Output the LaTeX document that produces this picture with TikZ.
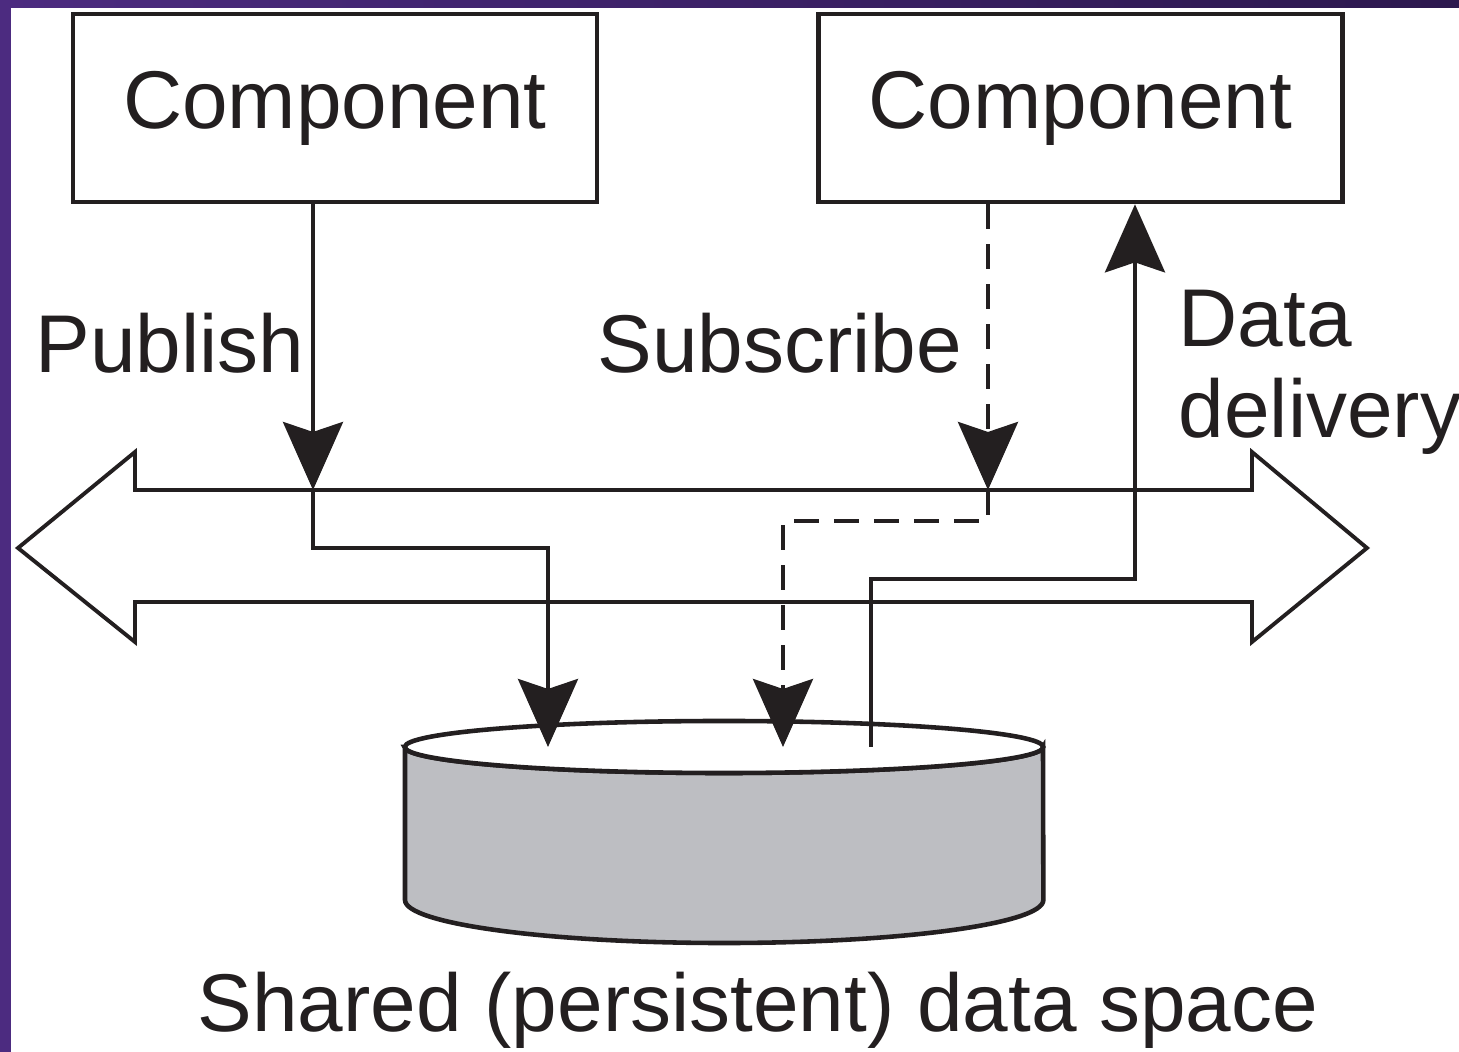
\documentclass[tikz,border=0pt]{standalone}
\usepackage{fontspec}
\setmainfont{Liberation Sans}
\usetikzlibrary{arrows.meta}
\definecolor{ink}{RGB}{35,31,32}
\definecolor{drum}{RGB}{189,190,194}
\definecolor{frameA}{RGB}{76,43,128}
\definecolor{frameB}{RGB}{44,24,78}
\begin{document}
\begin{tikzpicture}[x=0.01cm, y=-0.01cm, line join=miter,
  lbl/.style={font=\fontsize{23.3}{25.9}\selectfont, inner sep=0pt, text=ink},
  compbox/.style={draw=ink, line width=1.3pt, minimum width=5.24cm,
    minimum height=1.88cm, inner sep=0pt, text=ink,
    font=\fontsize{23.3}{25.9}\selectfont},
  flow/.style={draw=ink, line width=1.1pt},
  tip/.style={-{Stealth[length=0.68cm, width=0.6cm, inset=0.1cm]}},
  dashline/.style={dash pattern=on 0.25cm off 0.15cm}]
  \useasboundingbox (0,0) rectangle (1459,1052);
  \fill[white] (0,0) rectangle (1459,1052);
  % slide frame
  \shade[left color=frameA, right color=frameB] (0,0) rectangle (1459,8);
  \fill[frameA] (0,0) rectangle (11,1052);

  % components
  \node[compbox] (c1) at (335,108) {Component};
  \node[compbox] (c2) at (1080.5,108) {Component};

  % shared data space (drum)
  \filldraw[fill=drum, draw=ink, line width=1.3pt]
    (405,747) -- (405,900)
    arc[start angle=180, end angle=360, x radius=3.19cm, y radius=0.43cm]
    -- (1043,747)
    arc[start angle=0, end angle=-180, x radius=3.19cm, y radius=0.26cm]
    -- cycle;
  \draw[fill=white, draw=ink, line width=1.3pt]
    (724,747) ellipse [x radius=3.19cm, y radius=0.26cm];

  % bus (double-headed arrow)
  \draw[flow, fill=white]
    (18,548) -- (135,452) -- (135,490) -- (1252,490) -- (1252,452)
    -- (1367,548) -- (1252,642) -- (1252,602) -- (135,602) -- (135,642)
    -- cycle;
  \coordinate (busT) at (0,490);

  % entry points on the drum
  \coordinate (pubIn) at (548,747);
  \coordinate (subIn) at (783,747);
  \coordinate (delOut) at (871,747);

  % publish
  \draw[flow, tip] (313,0 |- c1.south) -- (313,0 |- busT);
  \draw[flow, tip] (313,0 |- busT) |- (548,548) -- (pubIn);

  % subscribe
  \draw[flow, dashline, tip] (988,0 |- c2.south) -- (988,0 |- busT);
  \draw[flow, dashline, tip] (988,0 |- busT) |- (783,521) -- (subIn);

  % data delivery
  \draw[flow, tip] (delOut) |- (1135,579) -- (1135,0 |- c2.south);

  % labels
  \node[lbl, anchor=base west] (pub) at (35,373) {Publish};
  \node[lbl, anchor=base west] (sub) at (597,373) {Subscribe};
  \node[lbl, anchor=base west, align=left] (del) at (1178,438) {Data\\delivery};
  \node[lbl, anchor=base] (space) at (758,1032) {Shared (persistent) data space};
\end{tikzpicture}
\end{document}
